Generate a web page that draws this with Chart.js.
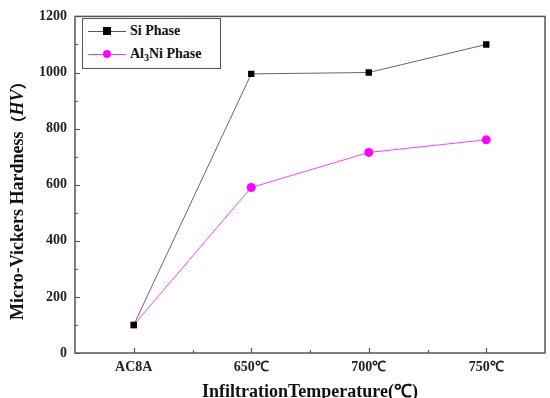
<!DOCTYPE html>
<html>
<head>
<meta charset="utf-8">
<script src="https://cdn.jsdelivr.net/npm/chart.js@4"></script>
<style>
  html, body { margin: 0; padding: 0; background: #fff; }
  #wrap { position: relative; width: 550px; height: 398px; overflow: hidden; }
  #legend {
    position: absolute; left: 82px; top: 18px; width: 137px; height: 49px;
    border: 1px solid #555; background: #fff;
    font-family: "Liberation Serif", serif; font-weight: bold; font-size: 14px; color: #111;
  }
  .row { position: absolute; left: 0; height: 20px; line-height: 20px; }
  .row .ln { position: absolute; left: 5px; top: 10px; width: 38px; height: 1px; }
  .row .mk { position: absolute; }
  .row .tx { position: absolute; left: 47px; top: 0; white-space: nowrap; }
  sub { font-size: 10px; vertical-align: -3px; line-height: 0; }
</style>
</head>
<body>
<div id="wrap">
  <canvas id="c" width="550" height="398"></canvas>
  <div id="legend">
    <div class="row" style="top:2px">
      <div class="ln" style="background:#555"></div>
      <div class="mk" style="left:20px;top:6px;width:8px;height:8px;background:#000"></div>
      <div class="tx">Si Phase</div>
    </div>
    <div class="row" style="top:25px">
      <div class="ln" style="background:#ff33ff"></div>
      <div class="mk" style="left:20px;top:6px;width:8px;height:8px;border-radius:50%;background:#ff00ff"></div>
      <div class="tx">Al<sub>3</sub>Ni Phase</div>
    </div>
  </div>
</div>
<script>
// data
const categories = ['AC8A', '650\u2103', '700\u2103', '750\u2103'];
const siPhase = [100, 995, 1000, 1100];
const al3niPhase = [100, 590, 715, 760];
const yTicks = [0, 200, 400, 600, 800, 1000, 1200];

const serif = '"Liberation Serif", "Times New Roman", serif';

// frame + inward tick marks, like the original plot
const framePlugin = {
  id: 'frame',
  afterDatasetsDraw(chart) {
    const { ctx, chartArea: a, scales } = chart;
    ctx.save();
    ctx.strokeStyle = '#555';
    ctx.lineWidth = 1.5;
    ctx.strokeRect(a.left, a.top, a.right - a.left, a.bottom - a.top);
    ctx.lineWidth = 1.2;
    ctx.beginPath();
    for (let v = 0; v <= 1200; v += 100) {
      const y = Math.round(scales.y.getPixelForValue(v)) + 0.5;
      const len = v % 200 === 0 ? 5 : 3;
      ctx.moveTo(a.left, y);
      ctx.lineTo(a.left + len, y);
    }
    for (let i = 0; i < categories.length; i++) {
      const x = Math.round(scales.x.getPixelForValue(i)) + 0.5;
      ctx.moveTo(x, a.bottom);
      ctx.lineTo(x, a.bottom - 5);
      if (i < categories.length - 1) {
        const xm = Math.round(scales.x.getPixelForValue(i + 0.5)) + 0.5;
        ctx.moveTo(xm, a.bottom);
        ctx.lineTo(xm, a.bottom - 3);
      }
    }
    ctx.stroke();
    ctx.restore();
  }
};

// y title with italic HV, as in the original
const yTitlePlugin = {
  id: 'ytitle',
  afterDraw(chart) {
    const { ctx, chartArea: a } = chart;
    const parts = [
      ['Micro-Vickers Hardness', 'bold 18px ' + serif],
      ['\uff08', 'bold 16px "Noto Sans CJK SC"'],
      ['HV', 'italic bold 18px ' + serif],
      ['\uff09', 'bold 16px "Noto Sans CJK SC"']
    ];
    ctx.save();
    let total = 0;
    parts.forEach(p => { ctx.font = p[1]; total += ctx.measureText(p[0]).width; });
    ctx.translate(18, (a.top + a.bottom) / 2 + 12);
    ctx.rotate(-Math.PI / 2);
    ctx.fillStyle = '#111';
    ctx.textBaseline = 'middle';
    let x = -total / 2;
    parts.forEach(p => {
      ctx.font = p[1];
      ctx.fillText(p[0], x, 0);
      x += ctx.measureText(p[0]).width;
    });
    ctx.restore();
  }
};

new Chart(document.getElementById('c'), {
  type: 'line',
  data: {
    labels: categories,
    datasets: [
      {
        label: 'Si Phase',
        data: siPhase,
        borderColor: '#666',
        borderWidth: 1,
        pointStyle: 'rect',
        pointRadius: 4.5,
        pointBackgroundColor: '#000',
        pointBorderColor: '#000',
        pointBorderWidth: 0
      },
      {
        label: 'Al3Ni Phase',
        data: al3niPhase,
        borderColor: '#ff40ff',
        borderWidth: 1,
        pointStyle: ['rect', 'circle', 'circle', 'circle'],
        pointRadius: 4.5,
        pointBackgroundColor: '#ff00ff',
        pointBorderColor: '#ff00ff',
        pointBorderWidth: 0
      }
    ]
  },
  options: {
    responsive: false,
    animation: false,
    layout: { padding: { top: 10, right: 5, left: 0, bottom: 0 } },
    plugins: { legend: { display: false }, tooltip: { enabled: false } },
    scales: {
      x: {
        offset: true,
        grid: { display: false, drawTicks: false },
        border: { display: false },
        ticks: {
          padding: 6,
          color: '#222',
          font: { family: serif, weight: 'bold', size: 14 }
        },
        title: {
          display: true,
          text: 'InfiltrationTemperature(\u2103)',
          color: '#111',
          font: { family: serif, weight: 'bold', size: 18 },
          padding: { top: 0, bottom: -5 }
        },
        afterFit(scale) { scale.height = 45; }
      },
      y: {
        min: 0,
        max: 1200,
        afterBuildTicks(scale) { scale.ticks = yTicks.map(v => ({ value: v })); },
        grid: { display: false, drawTicks: false },
        border: { display: false },
        ticks: {
          padding: 8,
          color: '#222',
          font: { family: serif, weight: 'bold', size: 14 },
          callback: v => String(v)
        },
        title: { display: false },
        afterFit(scale) { scale.width = 75; }
      }
    }
  },
  plugins: [framePlugin, yTitlePlugin]
});
</script>
</body>
</html>
